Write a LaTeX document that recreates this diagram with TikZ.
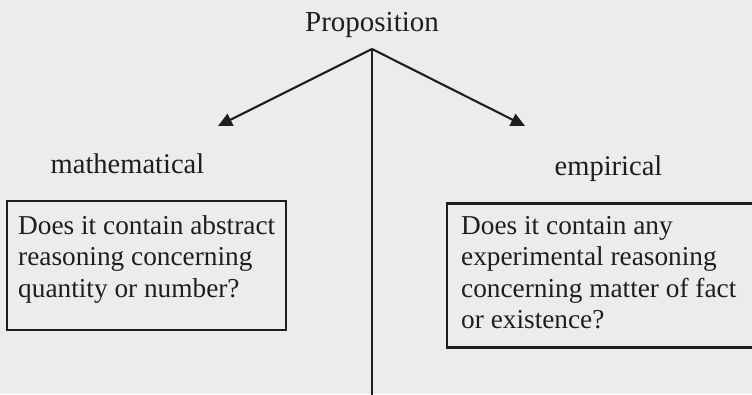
\documentclass[tikz,border=0pt]{standalone}
\usepackage{fontspec}
\setmainfont{Liberation Serif}
\usetikzlibrary{arrows.meta}
\definecolor{paper}{RGB}{236,236,234}
\definecolor{ink}{RGB}{30,30,30}
\tikzset{
  conn/.style={ink, line width=2.1pt},
  arr/.style={conn, -{Triangle[length=14pt,width=13pt]}},
  boxframe/.style={draw=ink, line width=2.1pt, rectangle, inner sep=0pt},
  label/.style={ink, font=\fontsize{28.5}{30}\selectfont, inner sep=0pt, anchor=base},
  boxtext/.style={ink, font=\fontsize{27.3}{31.5}\selectfont, inner sep=0pt, anchor=north west, align=left},
}
\begin{document}
\begin{tikzpicture}[x=1pt,y=-1pt]
  \fill[paper] (0,0) rectangle (752,394);
  \useasboundingbox (0,0) rectangle (752,394);
  \clip (0,0) rectangle (752,394);
  \node[label, font=\fontsize{29}{30}\selectfont] (prop) at (372,31) {Proposition};
  \coordinate (apex) at (372,49);
  \coordinate (bottom) at (372,396);
  \coordinate (lefttip) at (218,126);
  \coordinate (righttip) at (525,126);
  \draw[conn] (apex) -- (bottom);
  \draw[arr] (apex) -- (lefttip);
  \draw[arr] (apex) -- (righttip);
  \node[label] (math) at (127.5,173) {mathematical};
  \node[label] (emp) at (608.5,175) {empirical};
  \node[boxframe, minimum width=279pt, minimum height=129pt] (lbox) at (146.5,265.5) {};
  \node[boxframe, minimum width=320pt, minimum height=144pt] (rbox) at (607,275.5) {};
  \node[boxtext] (ltext) at (18,215) {Does it contain abstract\\reasoning concerning\\quantity or number?};
  \node[boxtext] (rtext) at (461,216) {Does it contain any\\experimental reasoning\\concerning matter of fact\\or existence?};
\end{tikzpicture}
\end{document}
